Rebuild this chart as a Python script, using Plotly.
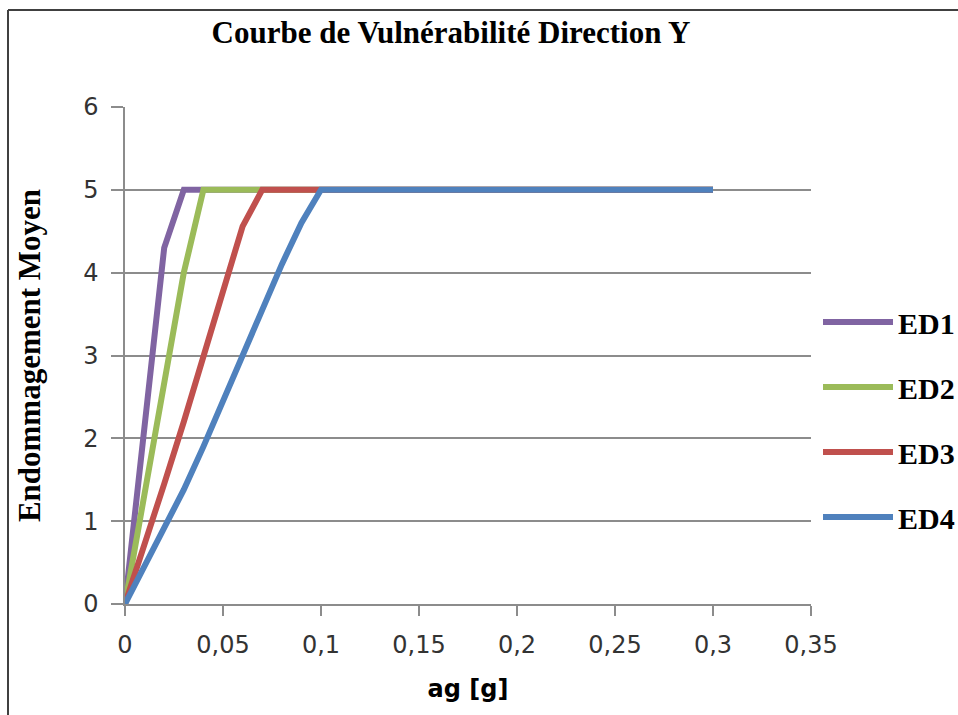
import plotly.graph_objects as go

# Peak ground acceleration (g)
ag = [0, 0.01, 0.02, 0.03, 0.04, 0.05, 0.06, 0.07, 0.08, 0.09, 0.10,
      0.15, 0.20, 0.25, 0.30]

# Mean damage for each damage state
ed1 = [0, 2.1, 4.3, 5, 5, 5, 5, 5, 5, 5, 5, 5, 5, 5, 5]
ed2 = [0, 1.3, 2.65, 4.0, 5, 5, 5, 5, 5, 5, 5, 5, 5, 5, 5]
ed3 = [0, 0.7, 1.45, 2.2, 3.0, 3.8, 4.56, 5, 5, 5, 5, 5, 5, 5, 5]
ed4 = [0, 0.45, 0.92, 1.38, 1.9, 2.45, 3.0, 3.55, 4.1, 4.6, 5, 5, 5, 5, 5]

series_names = ["ED1", "ED2", "ED3", "ED4"]
series_values = [ed1, ed2, ed3, ed4]
series_colors = ["#8064A2", "#9BBB59", "#C0504D", "#4F81BD"]

x_tick_vals = [0, 0.05, 0.1, 0.15, 0.2, 0.25, 0.3, 0.35]
x_tick_text = ["0", "0,05", "0,1", "0,15", "0,2", "0,25", "0,3", "0,35"]
y_tick_vals = [0, 1, 2, 3, 4, 5, 6]

W, H = 958, 715
L, R, T, B = 125, 811, 107, 604  # plot area in pixels


def px(xp):
    return (xp - L) / (R - L)


def py(yp):
    return (B - yp) / (B - T)


fig = go.Figure()
for name, vals, col in zip(series_names, series_values, series_colors):
    fig.add_trace(go.Scatter(
        x=ag, y=vals, mode="lines", name=name, legendgroup=name,
        line=dict(color=col, width=6),
    ))

serif = "Liberation Serif, Times New Roman, serif"
sans = "DejaVu Sans, sans-serif"
grid = "#8C8C8C"

fig.update_layout(
    width=W, height=H, autosize=False,
    margin=dict(l=L, r=W - R, t=T, b=H - B, autoexpand=False),
    paper_bgcolor="white", plot_bgcolor="white",
    separators=", ",
    title=dict(
        text="Courbe de Vulnérabilité Direction Y",
        font=dict(family=serif, size=31, color="black", weight="bold"),
        xref="paper", x=px(451), xanchor="center",
        yref="container", y=1 - 32 / H, yanchor="middle",
    ),
    xaxis=dict(
        range=[0, 0.35], tickvals=x_tick_vals, ticktext=x_tick_text,
        showgrid=False, zeroline=False,
        showline=True, linecolor=grid, linewidth=1.5,
        ticks="outside", ticklen=10, tickwidth=1.5, tickcolor=grid,
        ticklabelstandoff=8,
        tickfont=dict(family=sans, size=24, color="#333333"),
        title=dict(text="ag [g]", standoff=23,
                   font=dict(family=sans, size=24, color="black", weight="bold")),
    ),
    yaxis=dict(
        range=[0, 6], tickvals=y_tick_vals,
        showgrid=True, gridcolor=grid, gridwidth=1.5, zeroline=False,
        showline=True, linecolor=grid, linewidth=1.5,
        ticks="outside", ticklen=12, tickwidth=1.5, tickcolor=grid,
        ticklabelstandoff=8,
        tickfont=dict(family=sans, size=24, color="#333333"),
        title=dict(text="Endommagement Moyen", standoff=33,
                   font=dict(family=serif, size=31, color="black", weight="bold")),
    ),
    legend=dict(
        x=px(818), xanchor="left", y=py(296), yanchor="top",
        font=dict(family=serif, size=30, color="black", weight="bold"),
        tracegroupgap=23, itemwidth=70, bgcolor="rgba(0,0,0,0)",
    ),
    showlegend=True,
)

# Outer chart frame
fig.add_shape(type="line", xref="paper", yref="paper",
              x0=px(8), x1=px(8), y0=py(10), y1=py(H + 5),
              line=dict(color="#404040", width=2))
fig.add_shape(type="line", xref="paper", yref="paper",
              x0=px(8), x1=px(W + 5), y0=py(10), y1=py(10),
              line=dict(color="#404040", width=2))

fig.write_html("out.html")
